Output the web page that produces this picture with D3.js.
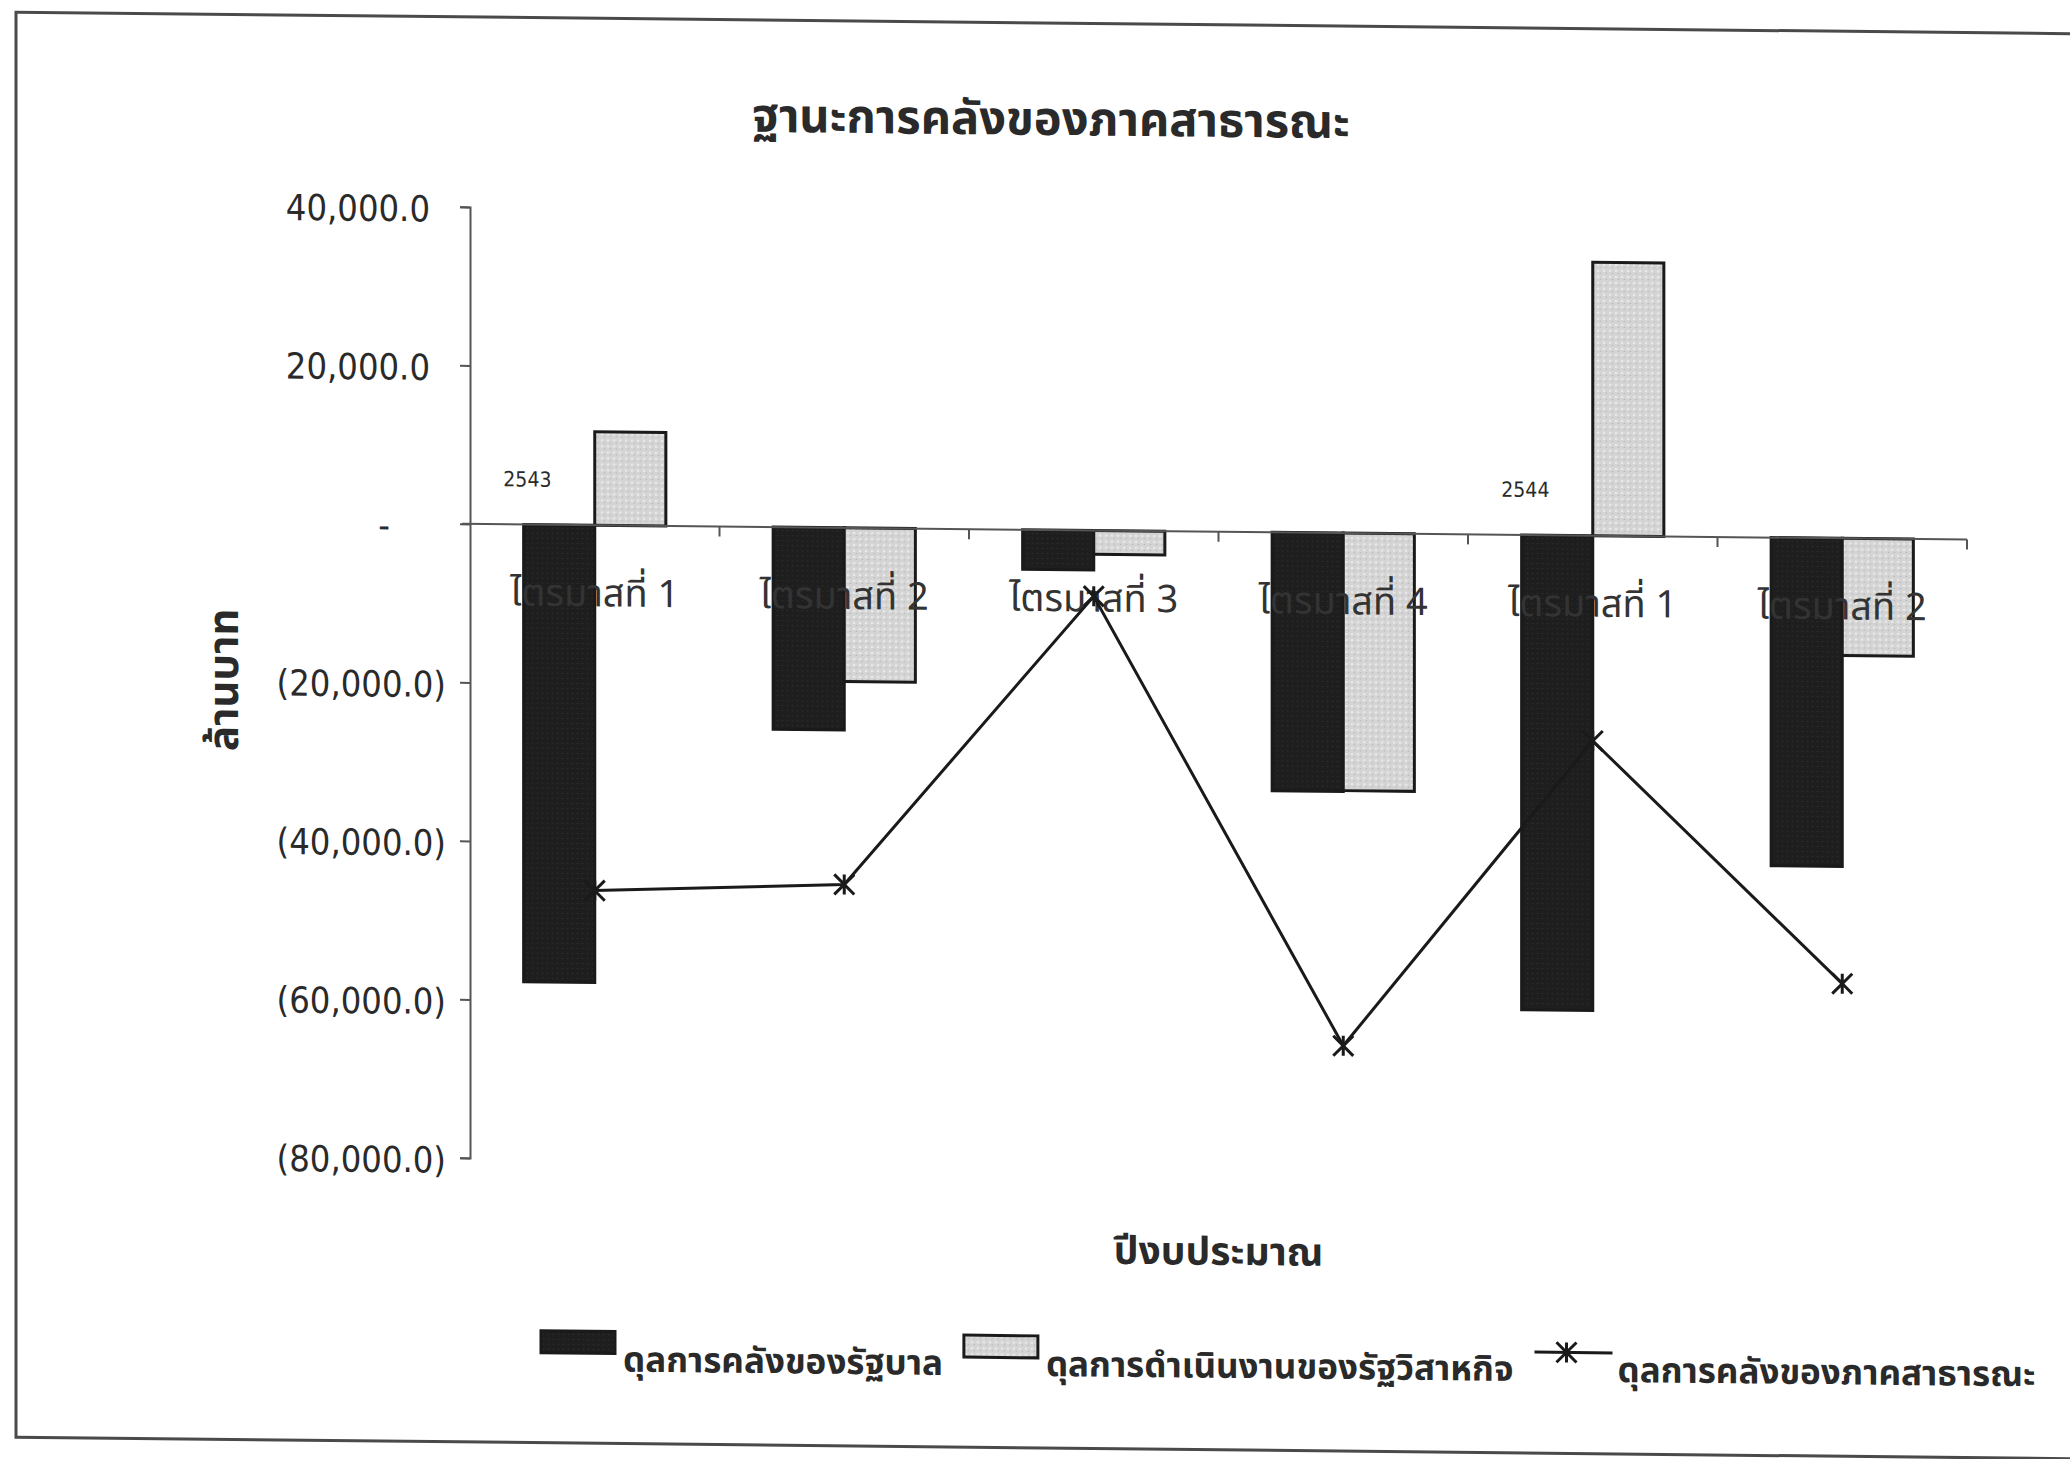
<!DOCTYPE html>
<html>
<head>
<meta charset="utf-8">
<script src="https://cdn.jsdelivr.net/npm/d3@7"></script>
<style>
  body { margin: 0; background: #fff; }
  svg text { fill: #2a2a2a; }
</style>
</head>
<body>
<div id="chart"></div>
<script>
// data (million baht)
const quarters = ['ไตรมาสที่ 1', 'ไตรมาสที่ 2', 'ไตรมาสที่ 3', 'ไตรมาสที่ 4', 'ไตรมาสที่ 1', 'ไตรมาสที่ 2'];
const years = [{ label: '2543', index: 0 }, { label: '2544', index: 4 }];
const govBalance = [-57700, -25500, -5000, -32600, -59900, -41400];
const soeBalance = [11800, -19400, -3000, -32500, 34500, -14800];
const publicBalance = [-46100, -45000, -8300, -64700, -25900, -56200];
const yTicks = [40000, 20000, 0, -20000, -40000, -60000, -80000];
const seriesNames = ['ดุลการคลังของรัฐบาล', 'ดุลการดำเนินงานของรัฐวิสาหกิจ', 'ดุลการคลังของภาคสาธารณะ'];

const width = 2070, height = 1459;
const margin = { top: 202, right: 103, bottom: 306, left: 470 };
const thaiFont = "Tahoma, 'Noto Sans Thai', 'Noto Sans', 'DejaVu Sans', sans-serif";
const numFont = "'DejaVu Sans Condensed', 'DejaVu Sans', sans-serif";

const svg = d3.select('#chart').append('svg')
    .attr('width', width)
    .attr('height', height);

// textures for the scanned bar fills
const defs = svg.append('defs');
const light = defs.append('pattern')
    .attr('id', 'lightFill')
    .attr('patternUnits', 'userSpaceOnUse')
    .attr('width', 6).attr('height', 6);
light.append('rect').attr('width', 6).attr('height', 6).attr('fill', '#d4d4d4');
light.append('rect').attr('x', 1).attr('y', 1).attr('width', 2).attr('height', 2).attr('fill', '#eeeeee');
light.append('rect').attr('x', 4).attr('y', 4).attr('width', 1).attr('height', 1).attr('fill', '#a8a8a8');
const dark = defs.append('pattern')
    .attr('id', 'darkFill')
    .attr('patternUnits', 'userSpaceOnUse')
    .attr('width', 5).attr('height', 5);
dark.append('rect').attr('width', 5).attr('height', 5).attr('fill', '#1e1e1e');
dark.append('rect').attr('x', 2).attr('y', 2).attr('width', 1).attr('height', 1).attr('fill', '#3a3a3a');

// the scan is slightly skewed
const g = svg.append('g').attr('transform', 'skewY(0.6)');

g.append('rect')
    .attr('x', 16).attr('y', 12)
    .attr('width', 2110).attr('height', 1425)
    .attr('fill', 'none')
    .attr('stroke', '#4a4a4a')
    .attr('stroke-width', 3);

const x0 = d3.scaleBand()
    .domain(d3.range(quarters.length))
    .range([margin.left, width - margin.right])
    .paddingInner(0.43)
    .paddingOuter(0.215);
const x1 = d3.scaleBand()
    .domain([0, 1])
    .range([0, x0.bandwidth()]);
const step = x0.step();
const y = d3.scaleLinear()
    .domain([-80000, 40000])
    .range([height - margin.bottom, margin.top]);

// title
g.append('text')
    .attr('x', 1051).attr('y', 124)
    .attr('text-anchor', 'middle')
    .style('font-family', thaiFont)
    .style('font-weight', 'bold')
    .style('font-size', '47px')
    .text('ฐานะการคลังของภาคสาธารณะ');

// y axis
const fmt = d3.format(',.1f');
const yAxis = d3.axisLeft(y)
    .tickValues(yTicks)
    .tickSize(10)
    .tickFormat(d => d > 0 ? fmt(d) : d < 0 ? '(' + fmt(-d) + ')' : '-');
const yg = g.append('g')
    .attr('transform', 'translate(' + margin.left + ',0)')
    .call(yAxis);
yg.select('.domain').attr('stroke', '#555').attr('stroke-width', 2);
yg.selectAll('.tick line').attr('stroke', '#555').attr('stroke-width', 2);
yg.selectAll('.tick text')
    .style('font-family', numFont)
    .style('font-size', '36px')
    .attr('fill', '#2a2a2a')
    .attr('x', d => d > 0 ? -40 : d < 0 ? -24 : -86)
    .attr('text-anchor', d => d === 0 ? 'middle' : 'end')
    .attr('dy', '0.4em');

// year labels
g.append('g').selectAll('text')
    .data(years)
    .enter().append('text')
    .attr('x', d => x0(d.index) + x0.bandwidth() / 2 - step * 0.27)
    .attr('y', 481)
    .attr('text-anchor', 'middle')
    .style('font-family', numFont)
    .style('font-size', '21px')
    .text(d => d.label);

// bars
const barSeries = [
    { values: govBalance, fill: 'url(#darkFill)' },
    { values: soeBalance, fill: 'url(#lightFill)' }
];
barSeries.forEach((s, k) => {
    g.append('g').selectAll('rect')
        .data(s.values)
        .enter().append('rect')
        .attr('x', (d, i) => x0(i) + x1(k))
        .attr('width', x1.bandwidth())
        .attr('y', d => y(Math.max(0, d)))
        .attr('height', d => Math.abs(y(d) - y(0)))
        .attr('fill', s.fill)
        .attr('stroke', '#1a1a1a')
        .attr('stroke-width', 3);
});

// x axis on zero
g.append('line')
    .attr('x1', margin.left - 8).attr('x2', width - margin.right)
    .attr('y1', y(0)).attr('y2', y(0))
    .attr('stroke', '#555').attr('stroke-width', 2);
g.append('g').selectAll('line')
    .data(d3.range(1, quarters.length + 1))
    .enter().append('line')
    .attr('x1', d => margin.left + d * step)
    .attr('x2', d => margin.left + d * step)
    .attr('y1', y(0)).attr('y2', y(0) + 10)
    .attr('stroke', '#555').attr('stroke-width', 2);

// category labels sit under the zero line, over the bars
g.append('g').selectAll('text')
    .data(quarters)
    .enter().append('text')
    .attr('x', (d, i) => x0(i) + x0.bandwidth() / 2)
    .attr('y', y(0) + 81)
    .attr('text-anchor', 'middle')
    .style('font-family', thaiFont)
    .style('font-size', '38px')
    .style('fill', '#333')
    .text(d => d);

// line series with star markers
const cx = i => x0(i) + x0.bandwidth() / 2;
const line = d3.line()
    .x((d, i) => cx(i))
    .y(d => y(d));
g.append('path')
    .datum(publicBalance)
    .attr('d', line)
    .attr('fill', 'none')
    .attr('stroke', '#1a1a1a')
    .attr('stroke-width', 3);
const star = (sel, r) => {
    sel.append('path')
        .attr('d', 'M' + (-r) + ',' + (-r) + 'L' + r + ',' + r + 'M' + (-r) + ',' + r + 'L' + r + ',' + (-r) + 'M0,' + (-r) + 'L0,' + r)
        .attr('stroke', '#1a1a1a')
        .attr('stroke-width', 3)
        .attr('fill', 'none');
};
g.append('g').selectAll('g')
    .data(publicBalance)
    .enter().append('g')
    .attr('transform', (d, i) => 'translate(' + cx(i) + ',' + y(d) + ')')
    .each(function () { star(d3.select(this), 10); });

// axis titles
g.append('text')
    .attr('transform', 'translate(238,' + ((margin.top + height - margin.bottom) / 2) + ') rotate(-90)')
    .attr('text-anchor', 'middle')
    .style('font-family', thaiFont)
    .style('font-weight', 'bold')
    .style('font-size', '42px')
    .text('ล้านบาท');
g.append('text')
    .attr('x', (margin.left + width - margin.right) / 2)
    .attr('y', 1252)
    .attr('text-anchor', 'middle')
    .style('font-family', thaiFont)
    .style('font-weight', 'bold')
    .style('font-size', '39px')
    .text('ปีงบประมาณ');

// legend
const legend = g.append('g').attr('transform', 'translate(541,1336)');
let lx = 0;
seriesNames.forEach((name, k) => {
    const item = legend.append('g').attr('transform', 'translate(' + lx + ',0)');
    if (k < 2) {
        item.append('rect')
            .attr('x', 0).attr('y', -11)
            .attr('width', 74).attr('height', 22)
            .attr('fill', k === 0 ? 'url(#darkFill)' : 'url(#lightFill)')
            .attr('stroke', '#1a1a1a').attr('stroke-width', 3);
    } else {
        item.append('line')
            .attr('x1', 0).attr('x2', 78)
            .attr('stroke', '#1a1a1a').attr('stroke-width', 3);
        star(item.append('g').attr('transform', 'translate(32,0)'), 10);
    }
    const t = item.append('text')
        .attr('x', k < 2 ? 82 : 83)
        .attr('y', 29)
        .style('font-family', thaiFont)
        .style('font-weight', 'bold')
        .style('font-size', '35px')
        .text(name);
    lx += (k < 2 ? 82 : 83) + t.node().getComputedTextLength() + 21;
});
</script>
</body>
</html>
